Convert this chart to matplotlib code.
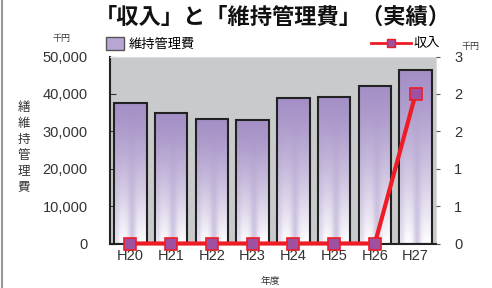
import numpy as np
import matplotlib
matplotlib.use("Agg")
import matplotlib.pyplot as plt
from matplotlib.lines import Line2D
from matplotlib.patches import Patch
from matplotlib.colors import to_rgb

plt.rcParams['font.family'] = ['Noto Sans CJK JP', 'DejaVu Sans']

categories = ["H20", "H21", "H22", "H23", "H24", "H25", "H26", "H27"]
maintenance = [37500, 34900, 33300, 33000, 38800, 39200, 42100, 46400]
revenue = [0, 0, 0, 0, 0, 0, 0, 2.4]
left_ticks = [0, 10000, 20000, 30000, 40000, 50000]
left_tick_labels = ["0", "10,000", "20,000", "30,000", "40,000", "50,000"]
right_ticks = [0, 0.6, 1.2, 1.8, 2.4, 3.0]
right_tick_labels = ["0", "1", "1", "2", "2", "3"]

fig = plt.figure(figsize=(4.92, 2.88), dpi=100)
ax = fig.add_axes([110/492, 1-243.5/288, 326/492, 187/288])
ax.set_facecolor('#c9cacc')
x = np.arange(len(categories))
bars = ax.bar(x, maintenance, width=0.8, facecolor='none', edgecolor='#222222',
              linewidth=1.5, zorder=3)

# gradient fill for bars
purple = np.array(to_rgb('#a490c6'))
white = np.array([1.0, 1.0, 1.0])
ny, nx = 100, 60
yy = np.linspace(0, 1, ny)[:, None]  # 0 top, 1 bottom
xx = np.linspace(0, 1, nx)[None, :]
t = np.clip(yy ** 1.3, 0, 1)
stripe = np.exp(-((xx - 0.55) / 0.12) ** 2) * 0.55 + np.exp(-((xx - 0.08) / 0.08) ** 2) * 0.3
t = t * (1 - stripe * yy * 0.9)
t = np.clip(t, 0, 1)
img = purple[None, None, :] * (1 - t[..., None]) + white[None, None, :] * t[..., None]
for b in bars:
    x0, w, h = b.get_x(), b.get_width(), b.get_height()
    im = ax.imshow(img, extent=[x0, x0 + w, 0, h], aspect='auto', zorder=2,
                   interpolation='bilinear')
    im.set_clip_path(b)

ax.set_xlim(-0.5, len(categories) - 0.5)
ax.set_ylim(0, 50000)
ax.set_yticks(left_ticks)
ax.set_yticklabels(left_tick_labels, fontsize=10.5, color='#333333',
                   family=['Liberation Sans', 'DejaVu Sans'])
ax.set_xticks(x)
ax.set_xticklabels(categories, fontsize=10.5, color='#333333',
                   family=['Liberation Sans', 'DejaVu Sans'])
ax.tick_params(axis='y', direction='in', length=4, color='#333333', pad=16)
ax.tick_params(axis='x', length=0, pad=4)
for s in ['top', 'right']:
    ax.spines[s].set_color('#dddddd')
ax.spines['left'].set_color('#222222')
ax.spines['left'].set_linewidth(1.5)
ax.spines['bottom'].set_color('#222222')
ax.spines['bottom'].set_linewidth(1.5)

ax2 = ax.twinx()
ax2.plot(x, revenue, color='#ee1c25', linewidth=3, marker='s', markersize=8,
         markerfacecolor='#a050a0', markeredgecolor='#ee1c25', markeredgewidth=1.2,
         zorder=5, clip_on=False)
ax2.set_ylim(0, 3)
ax2.set_yticks(right_ticks)
ax2.set_yticklabels(right_tick_labels, fontsize=10.5, color='#333333',
                    family=['Liberation Sans', 'DejaVu Sans'])
ax2.tick_params(axis='y', direction='out', length=3, color='#555555', pad=10)
for s in ['top', 'right', 'left', 'bottom']:
    ax2.spines[s].set_visible(False)

# Title and labels
fig.text(273/492, 1-17/288, "「収入」と「維持管理費」（実績）", ha='center', va='center',
         fontsize=16, fontweight='bold', color='#111111')
fig.text(62/492, 1-38/288, "千円", ha='center', va='center', fontsize=6.5, color='#333333')
fig.text(470/492, 1-46/288, "千円", ha='center', va='center', fontsize=6.5, color='#333333')
fig.text(270/492, 1-281/288, "年度", ha='center', va='center', fontsize=7, color='#333333')
fig.text(24/492, 1-147/288, "繕\n維\n持\n管\n理\n費", ha='center', va='center',
         fontsize=9, color='#333333', linespacing=1.3)

# Legends
leg1 = fig.legend(handles=[Patch(facecolor='#b8a6d4', edgecolor='#555555')],
                  labels=["維持管理費"], loc='center left',
                  bbox_to_anchor=(106/492, 1-44/288), frameon=False, fontsize=9.5,
                  handlelength=1.4, handleheight=1.1, handletextpad=0.3,
                  borderpad=0, borderaxespad=0)
leg2 = fig.legend(handles=[Line2D([0, 1], [0, 0], color='#ee1c25', linewidth=2,
                                  marker='s', markersize=6, markerfacecolor='#a050a0',
                                  markeredgecolor='#ee1c25', markevery=[0, -1])],
                  labels=["収入"], loc='center right',
                  bbox_to_anchor=(440/492, 1-44/288), frameon=False, fontsize=9.5,
                  handlelength=3.0, handletextpad=0.2, borderpad=0, borderaxespad=0)

# left frame line
fig.add_artist(Line2D([2/492, 2/492], [0, 1], color='#999999', linewidth=1.5,
                      transform=fig.transFigure))

fig.savefig("out.png", dpi=100)
